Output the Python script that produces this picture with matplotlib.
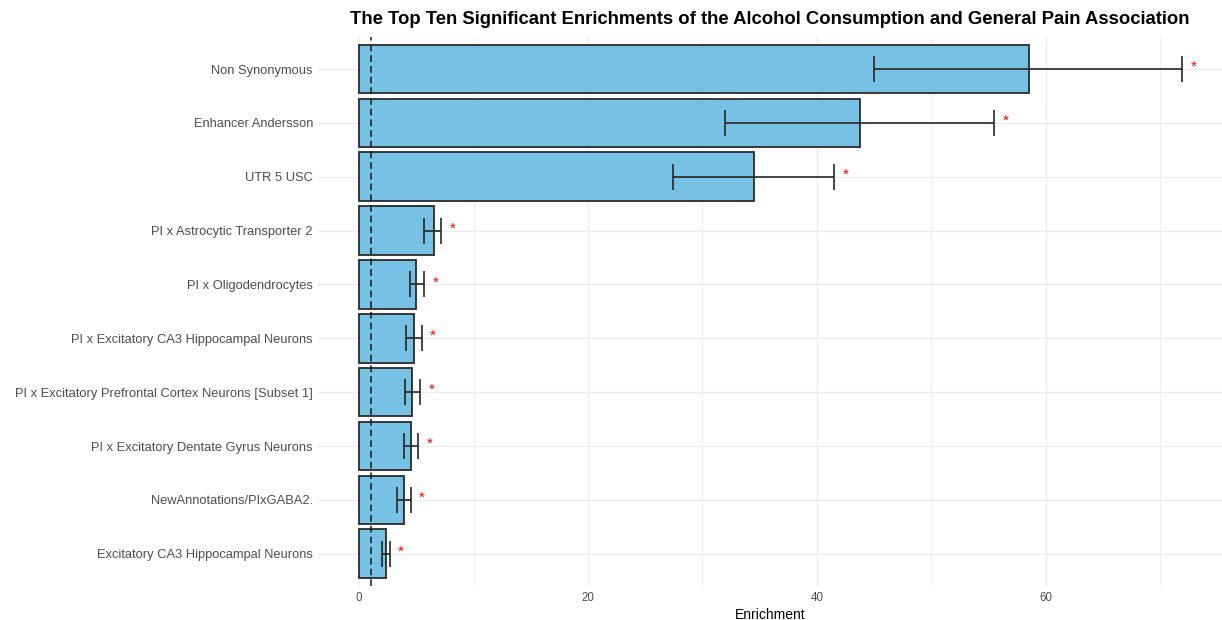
import numpy as np
import matplotlib
matplotlib.use("Agg")
import matplotlib.pyplot as plt

plt.rcParams['font.family'] = ['Liberation Sans', 'DejaVu Sans']

# enrichment results, top row first
annotations = [
    "Non Synonymous",
    "Enhancer Andersson",
    "UTR 5 USC",
    "PI x Astrocytic Transporter 2",
    "PI x Oligodendrocytes",
    "PI x Excitatory CA3 Hippocampal Neurons",
    "PI x Excitatory Prefrontal Cortex Neurons [Subset 1]",
    "PI x Excitatory Dentate Gyrus Neurons",
    "NewAnnotations/PIxGABA2.",
    "Excitatory CA3 Hippocampal Neurons",
]
enrichment = [58.5, 43.8, 34.5, 6.5, 5.0, 4.8, 4.65, 4.53, 3.92, 2.35]
ci_lower = [45.0, 32.0, 27.4, 5.7, 4.4, 4.1, 4.0, 3.9, 3.34, 1.98]
ci_upper = [71.9, 55.5, 41.5, 7.15, 5.67, 5.45, 5.3, 5.17, 4.5, 2.67]
significant = [True] * 10

y = np.arange(len(annotations))
enrichment = np.array(enrichment)
xerr = np.vstack([enrichment - np.array(ci_lower), np.array(ci_upper) - enrichment])

fig = plt.figure(figsize=(12.22, 6.2), dpi=100)
ax = fig.add_axes([0.2602, 0.0548, 0.7398, 0.886])

grid_col = "#ebebeb"
for yy in y:
    ax.axhline(yy, color=grid_col, lw=1.0, zorder=0)
for xx in [0, 20, 40, 60]:
    ax.axvline(xx, color=grid_col, lw=1.0, zorder=0)
for xx in [10, 30, 50, 70]:
    ax.axvline(xx, color=grid_col, lw=0.6, zorder=0)

ax.barh(y, enrichment, height=0.9, color="#77c1e4", edgecolor="#2b2b2b",
        linewidth=1.3, zorder=2)
ax.errorbar(enrichment, y, xerr=xerr, fmt="none", ecolor="#262626",
            elinewidth=1.2, capsize=9.6, capthick=1.2, zorder=3)
ax.axvline(1, color="#1a1a1a", lw=1.1, linestyle=(0, (4.4, 2.6)), zorder=4)

for yy, up, sig in zip(y, ci_upper, significant):
    if sig:
        ax.annotate("*", (up + 1.0, yy), xytext=(0, 1.5), textcoords="offset points",
                    ha="center", va="center", color="red", fontsize=11, zorder=5)

ax.set_xlim(-3.6, 75.4)
ax.set_ylim(len(annotations) - 0.4, -0.6)
ax.set_yticks(y)
ax.set_yticklabels(annotations)
ax.set_xticks([0, 20, 40, 60])
ax.tick_params(length=0, labelcolor="#4d4d4d")
ax.tick_params(axis="y", labelsize=9.3, pad=3.6)
ax.tick_params(axis="x", labelsize=8.3, pad=4)
for s in ax.spines.values():
    s.set_visible(False)

ax.set_xlabel("Enrichment", fontsize=10, labelpad=3.5)
ax.set_title("The Top Ten Significant Enrichments of the Alcohol Consumption and General Pain Association",
             fontsize=13.3, fontweight="bold", pad=9)

fig.savefig("out.png", dpi=100)
